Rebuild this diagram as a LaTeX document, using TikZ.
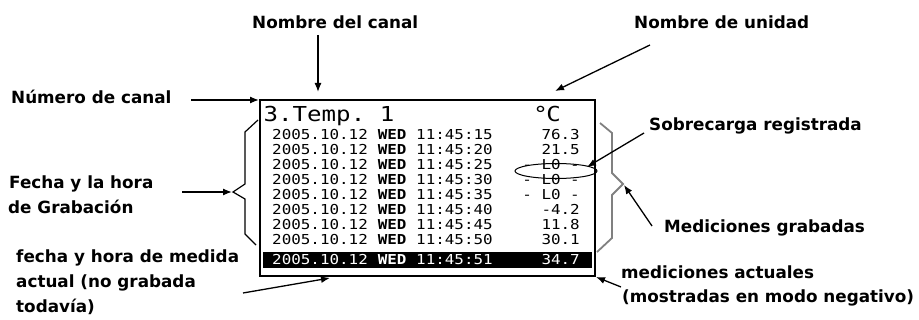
\documentclass[tikz,border=0pt]{standalone}
\usepackage{fontspec}
\setmainfont{DejaVu Sans}
\newfontfamily\lcdfont[FakeStretch=1.16]{DejaVu Sans Mono}
\newfontfamily\lcdtitle[FakeStretch=1.17]{DejaVu Sans Mono}
\usetikzlibrary{arrows.meta}
\begin{document}
\begin{tikzpicture}[x=1pt,y=-1pt,
  lbl/.style={font=\fontsize{16.8}{20}\selectfont\bfseries, inner sep=0pt, anchor=base west},
  arr/.style={line width=1.3pt, -{Latex[length=9pt,width=7pt]}},
  lcd/.style={font=\lcdfont\fontsize{13.7}{15}\selectfont, inner sep=0pt},
  lcdw/.style={font=\lcdfont\bfseries\fontsize{13.7}{15}\selectfont, inner sep=0pt},
  ttl/.style={font=\lcdtitle\fontsize{20.6}{22}\selectfont, inner sep=0pt, anchor=base west},
  brace/.style={line width=1.2pt, line join=miter},
  gbrace/.style={line width=1.8pt, draw=black!50, line join=miter}]
\useasboundingbox (0,0) rectangle (919,320);

% LCD frame and negative row
\draw[line width=2.4pt] (260,100) rectangle (595,276);
\fill (263,252) rectangle (592,268);

% title line
\node[ttl] (title) at (263.5,122) {3.Temp.\phantom{0}1};
\node[ttl, anchor=base east] (unit) at (561,122) {°\kern-1.5pt C};

% recorded rows
\foreach \i/\t/\v in {1/15/76.3, 2/20/21.5, 3/25/{-\phantom{0}L0\phantom{0}-},
  4/30/{-\phantom{0}L0\phantom{0}-}, 5/35/{-\phantom{0}L0\phantom{0}-},
  6/40/-4.2, 7/45/11.8, 8/50/30.1} {
  \pgfmathsetmacro\yb{125+15*\i}
  \node[lcd, anchor=base west] (d\i) at (272,\yb) {2005.10.12};
  \node[lcdw, anchor=base west] (w\i) at (377.6,\yb) {WED};
  \node[lcd, anchor=base west] (t\i) at (416,\yb) {11:45:\t};
  \node[lcd, anchor=base east] (v\i) at (580,\yb) {\v};
}
% current row (negative)
\node[lcd, text=white, anchor=base west] (dc) at (272,265) {2005.10.12};
\node[lcdw, text=white, anchor=base west] (wc) at (377.6,265) {WED};
\node[lcd, text=white, anchor=base west] (tc) at (416,265) {11:45:51};
\node[lcd, text=white, anchor=base east] (vc) at (580,265) {34.7};

% overload ellipse
\draw[line width=1pt] (556,171) ellipse [x radius=41, y radius=7.5];

% braces
\draw[brace] (258,120) -- (245,132) -- (245,184) -- (233,192) -- (245,199) -- (245,234) -- (256,245);
\draw[gbrace] (600,123) -- (612,133) -- (612,173) -- (623,184) -- (612,195) -- (612,238) -- (597,252);

% labels
\node[lbl] (ncl) at (252,29) {Nombre del canal};
\node[lbl] (ndu) at (634,29) {Nombre de unidad};
\node[lbl] (nuc) at (11,104) {Número de canal};
\node[lbl] (fh1) at (9,189) {Fecha y la hora};
\node[lbl] (fh2) at (8,214) {de Grabación};
\node[lbl] (sob) at (649,131) {Sobrecarga registrada};
\node[lbl] (mg) at (664,233) {Mediciones grabadas};
\node[lbl] (ma1) at (621,279) {mediciones actuales};
\node[lbl] (ma2) at (622,303) {(mostradas en modo negativo)};
\node[lbl] (fa1) at (16,263) {fecha y hora de medida};
\node[lbl] (fa2) at (16,288) {actual (no grabada};
\node[lbl] (fa3) at (16,313) {todavía)};

% arrow end points
\coordinate (nclS) at (318,35);   \coordinate (nclE) at (318,92);
\coordinate (nduS) at (650,45);   \coordinate (nduE) at (555,91);
\coordinate (nucS) at (191,100);  \coordinate (nucE) at (259,100);
\coordinate (fhS) at (182,192);   \coordinate (fhE) at (232,192);
\coordinate (sobS) at (644,133);  \coordinate (sobE) at (587,167);
\coordinate (mgS) at (652,226);   \coordinate (mgE) at (624,185);
\coordinate (maS) at (621,287);   \coordinate (maE) at (596,277);
\coordinate (faS) at (243,293);   \coordinate (faE) at (330,278);

\draw[arr] (nclS) -- (nclE);
\draw[arr] (nduS) -- (nduE);
\draw[arr] (nucS) -- (nucE);
\draw[arr] (fhS) -- (fhE);
\draw[arr] (sobS) -- (sobE);
\draw[arr] (mgS) -- (mgE);
\draw[arr] (maS) -- (maE);
\draw[arr] (faS) -- (faE);
\end{tikzpicture}
\end{document}
